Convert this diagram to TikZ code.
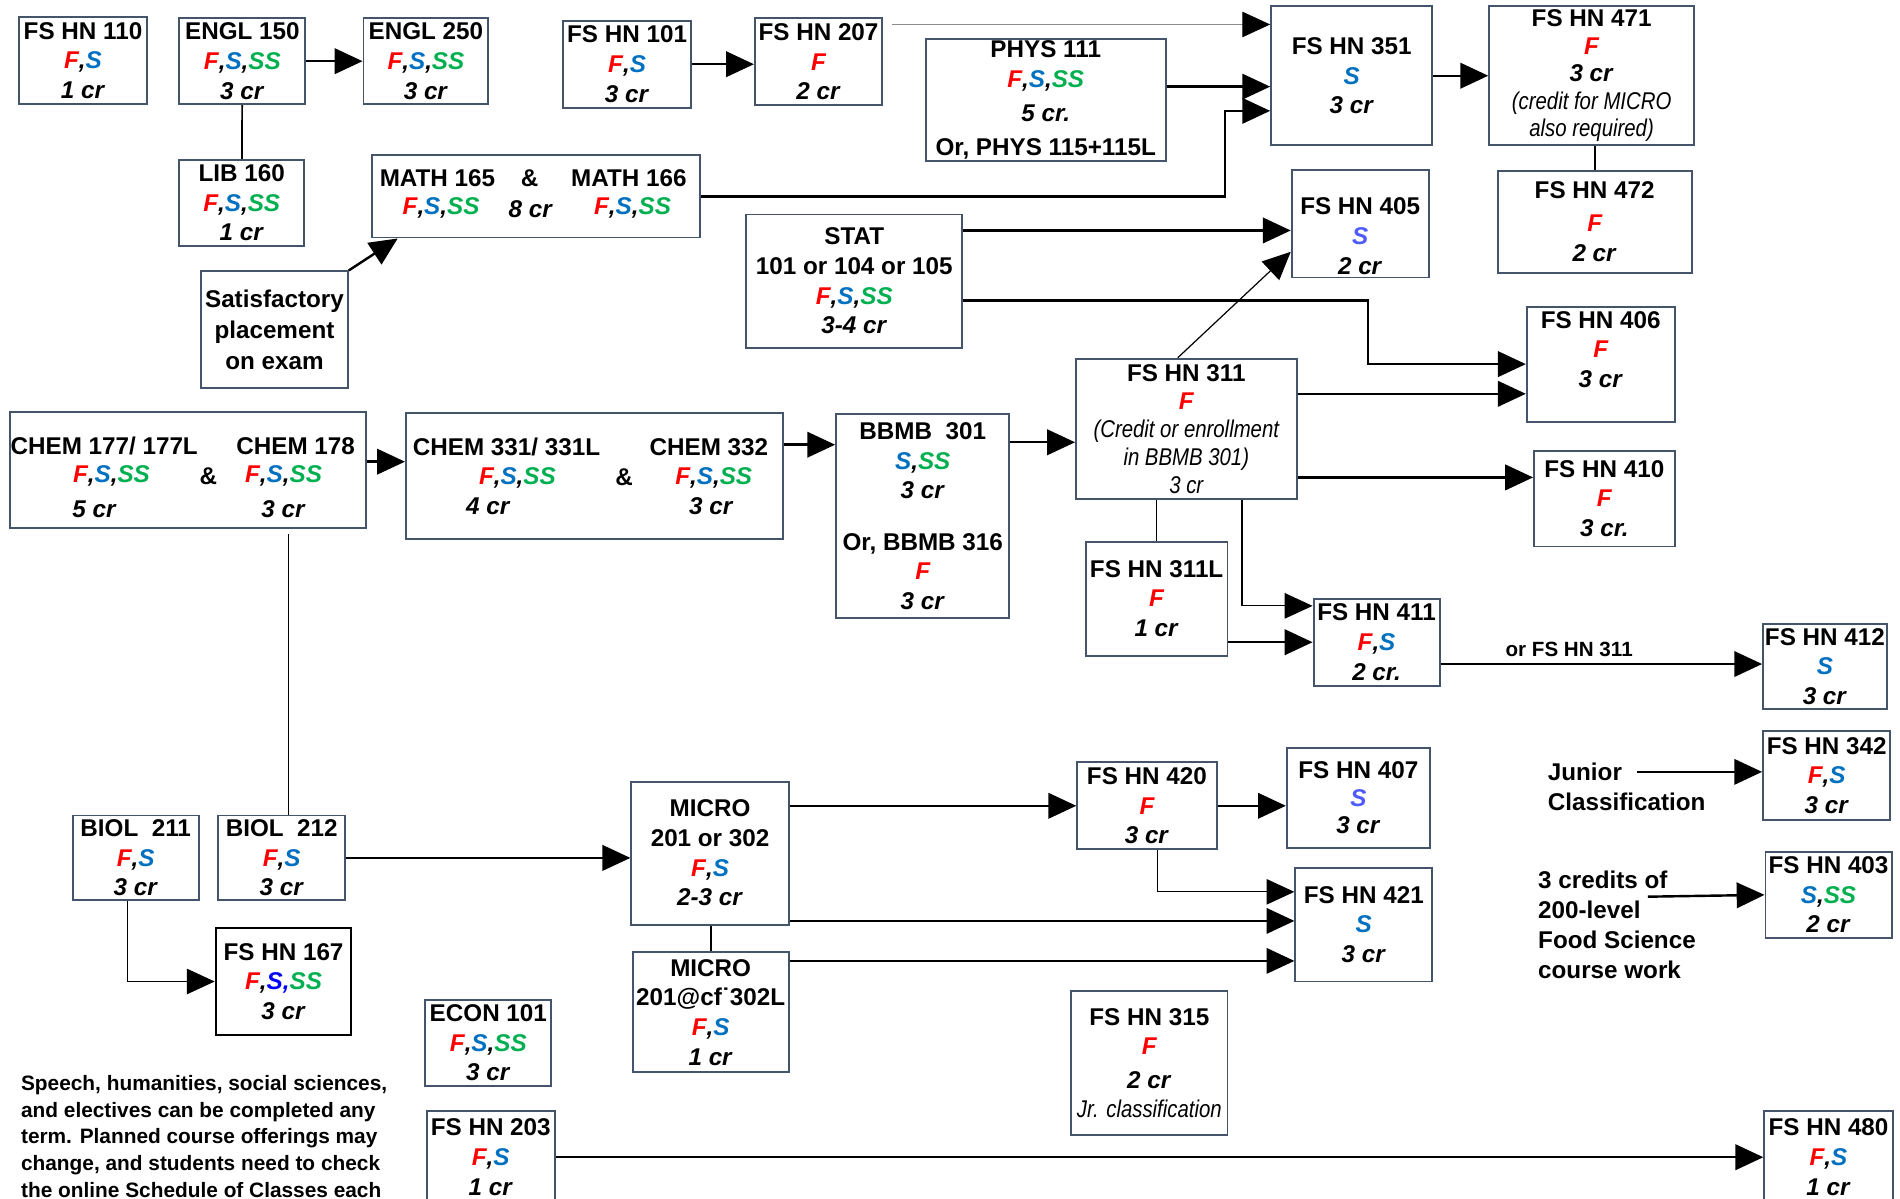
\documentclass[tikz,border=0pt]{standalone}
\usepackage{fontspec}
\setmainfont{Liberation Sans}
\usepackage{xcolor}
\usepackage{graphicx}
\usetikzlibrary{arrows.meta,calc}
\definecolor{termF}{HTML}{FF0000}
\definecolor{termS}{HTML}{0070C0}
\definecolor{termSS}{HTML}{00B050}
\definecolor{termSl}{HTML}{4F5BFF}
\definecolor{termSb}{HTML}{0000FF}
\definecolor{boxline}{HTML}{44546A}
\newcommand{\tF}{\textcolor{termF}{F}}
\newcommand{\tS}{\textcolor{termS}{S}}
\newcommand{\tSS}{\textcolor{termSS}{SS}}
\newcommand{\hrs}[1]{\textit{#1 cr}}
\newcommand{\remark}[1]{\scalebox{0.84}[1]{\mdseries\itshape #1}}

\begin{document}
\begin{tikzpicture}[x=0.5pt,y=-0.5pt,
  course/.style={draw=boxline,line width=0.8pt,fill=white,align=center,inner sep=0.5pt,
    font=\fontsize{10}{12.25}\selectfont\bfseries},
  txt/.style={inner sep=0pt,font=\fontsize{10}{12}\selectfont\bfseries},
  note/.style={align=left,inner sep=0pt,font=\fontsize{10}{12.5}\selectfont\bfseries},
  lbl/.style={inner sep=0pt,font=\fontsize{8.5}{10}\selectfont\bfseries},
  arrow/.style={-{Triangle[length=11.5pt,width=10.5pt]},line width=1pt},
  thin arrow/.style={arrow,line width=0.5pt},
  grey arrow/.style={-{Triangle[length=11.5pt,width=10.5pt,color=black]},line width=0.5pt,draw=black!45},
  link/.style={line width=0.7pt,draw=black}
]
\useasboundingbox (0,0) rectangle (1568,989);
\fill[white] (0,0) rectangle (1568,989);
\clip (0,0) rectangle (1568,989);

% first year
\node[course,minimum width=52.5pt,minimum height=36pt] (fshn110) at (68.5,50) {FS HN 110\\\textit{\tF,\tS}\\\hrs{1}};
\node[course,minimum width=52pt,minimum height=35.5pt] (engl150) at (200,50.5) {ENGL 150\\\textit{\tF,\tS,\tSS}\\\hrs{3}};
\node[course,minimum width=51.5pt,minimum height=35.5pt] (engl250) at (351.5,50.5) {ENGL 250\\\textit{\tF,\tS,\tSS}\\\hrs{3}};
\node[course,minimum width=51.5pt,minimum height=35.5pt] (lib160) at (199.5,167.5) {LIB 160\\\textit{\tF,\tS,\tSS}\\\hrs{1}};
\node[course,minimum width=60.5pt,minimum height=48pt,font=\fontsize{10}{12.75}\selectfont\bfseries] (exam) at (226.5,272) {Satisfactory\\placement\\on exam};
\node[course,minimum width=52.5pt,minimum height=36pt] (fshn101) at (517.5,53) {FS HN 101\\\textit{\tF,\tS}\\\hrs{3}};
\node[course,minimum width=52.5pt,minimum height=36pt] (fshn207) at (675.5,51) {FS HN 207\\\textit{\tF}\\\hrs{2}};

% math pair
\node[course,minimum width=135.5pt,minimum height=34pt] (math) at (442.5,162) {};
\node[txt] (math165) at (361,147) {MATH 165};
\node[txt] (mathand) at (437,147) {\&};
\node[txt] (math166) at (519,147) {MATH 166};
\node[txt] (math165t) at (364,172) {\textit{\tF,\tS,\tSS}};
\node[txt] (mathcr) at (438,173) {\hrs{8}};
\node[txt] (math166t) at (522,172) {\textit{\tF,\tS,\tSS}};

\node[course,minimum width=99pt,minimum height=50.5pt] (phys111) at (863,82.5) {PHYS 111\\\textit{\tF,\tS,\tSS}\\[2pt]\textit{5 cr.}\\[1.5pt]Or, PHYS 115+115L};
\node[course,minimum width=66.5pt,minimum height=57.5pt] (fshn351) at (1115.5,62.5) {FS HN 351\\\textit{\tS}\\\hrs{3}};
\node[course,minimum width=84.5pt,minimum height=57.5pt,font=\fontsize{10}{11.4}\selectfont\bfseries] (fshn471) at (1313.5,62.5) {FS HN 471\\\textit{\tF}\\\hrs{3}\\\remark{(credit for MICRO}\\\remark{also required)}};
\node[course,minimum width=80pt,minimum height=42pt] (fshn472) at (1316,183) {FS HN 472\\[1.5pt]\textit{\tF}\\\hrs{2}};
\node[course,minimum width=56.5pt,minimum height=44.5pt] (fshn405) at (1122.5,184.5) {\rule{0pt}{5pt}\\FS HN 405\\\textit{\textcolor{termSl}{S}}\\\hrs{2}};
\node[course,minimum width=89pt,minimum height=55pt] (stat) at (705,232) {STAT\\101 or 104 or 105\\\textit{\tF,\tS,\tSS}\\\hrs{3-4}};
\node[course,minimum width=61pt,minimum height=47.5pt] (fshn406) at (1321,300.5) {FS HN 406\\\textit{\tF}\\\hrs{3}\\\mbox{}};

% chemistry and biochemistry
\node[course,minimum width=147pt,minimum height=48pt] (chem177) at (155,388) {};
\node[txt] (chem177n) at (86,368) {CHEM 177/ 177L};
\node[txt] (chem178n) at (244,368) {CHEM 178};
\node[txt] (chem177t) at (92,393) {\textit{\tF,\tS,\tSS}};
\node[txt] (chemand) at (172,393) {\&};
\node[txt] (chem178t) at (234,393) {\textit{\tF,\tS,\tSS}};
\node[txt] (chem177c) at (78,420) {\hrs{5}};
\node[txt] (chem178c) at (234,420) {\hrs{3}};

\node[course,minimum width=155.5pt,minimum height=52pt] (chem331) at (490.5,393) {};
\node[txt] (chem331n) at (418,369) {CHEM 331/ 331L};
\node[txt] (chem332n) at (585,369) {CHEM 332};
\node[txt] (chem331t) at (427,394) {\textit{\tF,\tS,\tSS}};
\node[txt] (chem3and) at (515,394) {\&};
\node[txt] (chem332t) at (589,394) {\textit{\tF,\tS,\tSS}};
\node[txt] (chem331c) at (403,418) {\hrs{4}};
\node[txt] (chem332c) at (587,418) {\hrs{3}};

\node[course,minimum width=71.5pt,minimum height=84pt] (bbmb) at (761.5,426) {BBMB\ \ 301\\\textit{\tS,\tSS}\\\hrs{3}\\[9pt]Or, BBMB 316\\\textit{\tF}\\\hrs{3}};
\node[course,minimum width=91pt,minimum height=58pt,font=\fontsize{10}{11.6}\selectfont\bfseries] (fshn311) at (979,354) {FS HN 311\\\textit{\tF}\\\remark{(Credit or enrollment}\\\remark{in BBMB 301)}\\\remark{3 cr}};
\node[course,minimum width=58pt,minimum height=39.5pt] (fshn410) at (1324,411.5) {FS HN 410\\\textit{\tF}\\\textit{3 cr.}};
\node[course,minimum width=58.5pt,minimum height=47pt] (fshn311l) at (954.5,494) {FS HN 311L\\\textit{\tF}\\\hrs{1}};
\node[course,minimum width=52pt,minimum height=36pt] (fshn411) at (1136,530) {FS HN 411\\\textit{\tF,\tS}\\\textit{2 cr.}};
\node[course,minimum width=51pt,minimum height=35pt] (fshn412) at (1506,550) {FS HN 412\\\textit{\tS}\\\hrs{3}};
\node[course,minimum width=52.5pt,minimum height=37pt] (fshn342) at (1507.5,640) {FS HN 342\\\textit{\tF,\tS}\\\hrs{3}};
\node[course,minimum width=52pt,minimum height=35.5pt] (fshn403) at (1509,738.5) {FS HN 403\\\textit{\tS,\tSS}\\\hrs{2}};
\node[course,minimum width=53pt,minimum height=38pt] (fshn480) at (1509,955) {FS HN 480\\\textit{\tF,\tS}\\\hrs{1}};

% biology and microbiology
\node[course,minimum width=52pt,minimum height=35pt] (biol211) at (112,708) {BIOL\ \ 211\\\textit{\tF,\tS}\\\hrs{3}};
\node[course,minimum width=52.5pt,minimum height=35pt] (biol212) at (232.5,708) {BIOL\ \ 212\\\textit{\tF,\tS}\\\hrs{3}};
\node[course,minimum width=56pt,minimum height=44pt,draw=black] (fshn167) at (234,810) {FS HN 167\\\textit{\tF,\textcolor{termSb}{S,}\tSS}\\\hrs{3}};
\node[course,minimum width=65pt,minimum height=59pt] (micro) at (586,704) {MICRO\\201 or 302\\\textit{\tF,\tS}\\\hrs{2-3}};
\node[course,minimum width=64.5pt,minimum height=49.5pt] (microl) at (586.5,835.5) {MICRO\\201@cf˙302L\\\textit{\tF,\tS}\\\hrs{1}};
\node[course,minimum width=52pt,minimum height=35.5pt] (econ101) at (403,860.5) {ECON 101\\\textit{\tF,\tS,\tSS}\\\hrs{3}};
\node[course,minimum width=53pt,minimum height=38pt] (fshn203) at (405,955) {FS HN 203\\\textit{\tF,\tS}\\\hrs{1}};
\node[course,minimum width=57.5pt,minimum height=36pt] (fshn420) at (946.5,665) {FS HN 420\\\textit{\tF}\\\hrs{3}};
\node[course,minimum width=59pt,minimum height=41.5pt,font=\fontsize{10}{11.4}\selectfont\bfseries] (fshn407) at (1121,658.5) {FS HN 407\\\textit{\textcolor{termSl}{S}}\\\hrs{3}};
\node[course,minimum width=56.5pt,minimum height=47pt] (fshn421) at (1125.5,763) {FS HN 421\\\textit{\tS}\\\hrs{3}};
\node[course,minimum width=64.5pt,minimum height=59.5pt] (fshn315) at (948.5,877.5) {FS HN 315\\\textit{\tF}\\[1.5pt]\hrs{2}\\\remark{Jr. classification}};

% free text
\node[note,anchor=west] (junior) at (1277,637) {Junior};
\node[note,anchor=west] (juniorcls) at (1277,662) {Classification};
\node[note,anchor=north west] (credits) at (1269,718) {3 credits of\\200-level\\Food Science\\course work};
\node[note,anchor=north west,font=\fontsize{8.6}{11}\selectfont\bfseries] (footnote) at (17,887) {Speech, humanities, social sciences,\\and electives can be completed any\\term. Planned course offerings may\\change, and students need to check\\the online Schedule of Classes each};

% helper points
\coordinate (p207) at ($(fshn207.north east)+(7,6)$);
\coordinate (physout) at ($(phys111.east)+(0,-11)$);
\coordinate (mathin) at ($(fshn351.west)+(0,29)$);
\coordinate (statup) at ($(stat.north east)+(0,14)$);
\coordinate (statlow) at ($(stat.east)+(0,16)$);
\coordinate (h311a) at ($(fshn311.east)+(0,-29)$);
\coordinate (h311b) at ($(fshn311.east)+(0,40)$);
\coordinate (h411) at ($(fshn411.east)+(0,18)$);
\coordinate (h177) at ($(chem177.east)+(0,-7)$);
\coordinate (h331) at ($(chem331.east)+(0,-26)$);
\coordinate (hbbmb) at ($(bbmb.east)+(0,-61)$);
\coordinate (chemdrop) at ($(chem177.south)+(83,4)$);
\coordinate (hmicroa) at ($(micro.east)+(0,-39)$);
\coordinate (hmicrob) at ($(micro.east)+(0,56)$);
\coordinate (hmicrol) at ($(microl.east)+(0,-42.5)$);
\coordinate (jr) at ([xshift=6pt]junior.east);
\coordinate (credfrom) at (1360,740);

% connectors
\draw[arrow] (engl150) -- (engl250);
\draw[link] (engl150) -- (lib160);
\draw[arrow] (exam.north east) -- ($(math.south west)+(22,0)$);
\draw[arrow] (fshn101.east) -- (fshn101.east -| fshn207.west);
\draw[grey arrow] (p207) -- (p207 -| fshn351.west);
\draw[arrow] (physout) -- (physout -| fshn351.west);
\draw[arrow] (math.east) -- ++(432,0) |- (mathin);
\draw[arrow] (fshn351) -- (fshn471);
\draw[link] (fshn472.north) -- (fshn472.north |- fshn471.south);
\draw[arrow] (statup) -- (statup -| fshn405.west);
\draw[arrow] (statlow) -- ++(334,0) |- (fshn406.west);
\draw[thin arrow] ($(fshn311.north)+(-7,0)$) -- ($(fshn405.south west)+(0,-22)$);
\draw[arrow] (h311a) -- (h311a -| fshn406.west);
\draw[arrow] (h311b) -- (h311b -| fshn410.west);
\draw[link] (fshn311l.north) -- (fshn311l.north |- fshn311.south);
\draw[thin arrow] ($(fshn311.south)+(46,0)$) |- ($(fshn411.west)+(0,-30)$);
\draw[arrow] (fshn311l.east |- fshn411.west) -- (fshn411.west);
\draw[arrow] (h411) -- node[pos=0.4,above=2.5pt,lbl] (or311) {or FS HN 311} (h411 -| fshn412.west);
\draw[arrow] (h177) -- (h177 -| chem331.west);
\draw[arrow] (h331) -- (h331 -| bbmb.west);
\draw[arrow] (hbbmb) -- (hbbmb -| fshn311.west);
\draw[link] (chemdrop) -- (chemdrop |- biol212.north);
\draw[arrow] (biol212.east) -- (biol212.east -| micro.west);
\draw[thin arrow] ($(biol211.south)+(-7,0)$) |- (fshn167.west);
\draw[arrow] (hmicroa) -- (hmicroa -| fshn420.west);
\draw[arrow] (hmicrob) -- (hmicrob -| fshn421.west);
\draw[link] (microl.north) -- (microl.north |- micro.south);
\draw[arrow] (hmicrol) -- (hmicrol -| fshn421.west);
\draw[arrow] (fshn420.east) -- (fshn420.east -| fshn407.west);
\draw[thin arrow] ($(fshn420.south)+(8.5,0)$) |- ($(fshn421.west)+(0,-27)$);
\draw[arrow] (jr) -- (jr -| fshn342.west);
\draw[arrow] (credfrom) -- (fshn403.west);
\draw[arrow] (fshn203) -- (fshn480);
\end{tikzpicture}
\end{document}
